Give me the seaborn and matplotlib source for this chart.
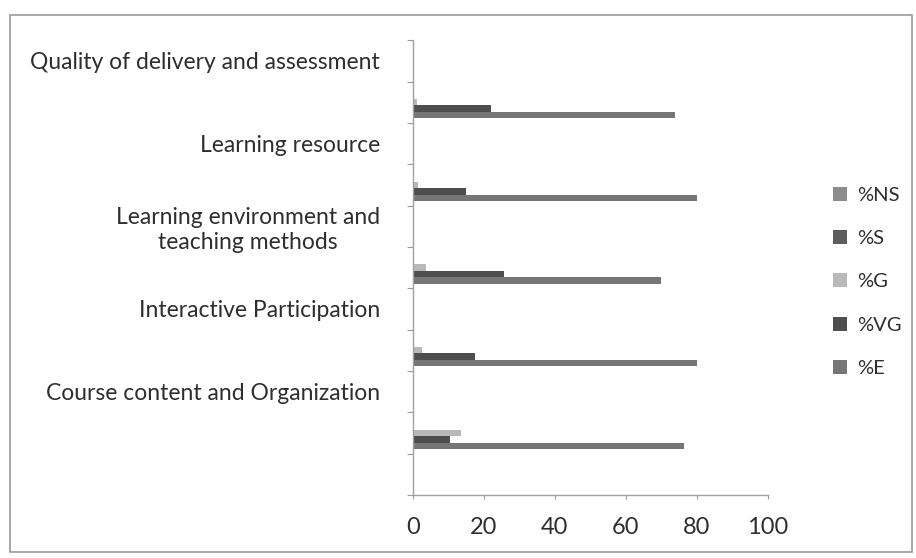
import numpy as np
import pandas as pd
import matplotlib.pyplot as plt
import seaborn as sns
from matplotlib.patches import Rectangle
from matplotlib.ticker import FixedLocator, NullFormatter

# Survey results per course aspect (bottom to top as in the chart)
categories = ["Course content and Organization",
              "Interactive Participation",
              "Learning environment and\nteaching methods",
              "Learning resource",
              "Quality of delivery and assessment"]
pct_E = [76.5, 80.0, 70.0, 80.0, 74.0]
pct_VG = [10.5, 17.5, 25.5, 15.0, 22.0]
pct_G = [13.5, 2.5, 3.5, 1.5, 1.0]
pct_S = [0.0, 0.0, 0.0, 0.0, 0.0]
pct_NS = [0.0, 0.0, 0.0, 0.0, 0.0]

series_names = ["%NS", "%S", "%G", "%VG", "%E"]
series_colors = ["#8c8c8c", "#5c5c5c", "#b9b9b9", "#4e4e4e", "#767676"]

# long-form table
rows = []
for i, cat in enumerate(categories):
    for name, vals in zip(["%E", "%VG", "%G", "%S", "%NS"], [pct_E, pct_VG, pct_G, pct_S, pct_NS]):
        rows.append({"slot": cat, "series": name, "value": vals[i]})
df = pd.DataFrame(rows)

# each category gets a label row above its bar row (like the original sheet)
slot_order = []
for cat in categories[::-1]:
    slot_order.append("label: " + cat)
    slot_order.append(cat)
slot_order.append("blank")

sns.set_style("white")
plt.rcParams['font.family'] = ['Lato', 'DejaVu Sans']
text_color = "#2e2e2e"

fig = plt.figure(figsize=(9.16, 5.58), dpi=100)
ax = fig.add_axes([0.451, 0.113, 0.387, 0.815])

sns.barplot(data=df, y="slot", x="value", hue="series", order=slot_order,
            hue_order=series_names, palette=series_colors, width=0.78,
            orient="h", saturation=1, linewidth=0, ax=ax)

ax.set_xlim(0, 100)
ax.set_ylim(len(slot_order) - 0.5, -0.5)
ax.set_xticks(range(0, 101, 20))
ax.set_xlabel("")
ax.set_ylabel("")

# tick marks between slots, labels on the label rows
ax.yaxis.set_major_locator(FixedLocator(np.arange(-0.5, len(slot_order), 1)))
ax.yaxis.set_major_formatter(NullFormatter())
label_pos = [slot_order.index("label: " + c) for c in categories]
ax.set_yticks(label_pos, categories, minor=True)
ax.tick_params(axis="y", which="minor", length=0, pad=24, labelsize=16.5, labelcolor=text_color)
ax.tick_params(axis="y", which="major", length=4, color="#999999", left=True)
ax.tick_params(axis="x", length=3, color="#999999", pad=13, labelsize=17,
               labelcolor=text_color, bottom=True)
for t in ax.get_yticklabels(minor=True):
    t.set_multialignment("center")

sns.despine(ax=ax, top=True, right=True)
for side in ["left", "bottom"]:
    ax.spines[side].set_color("#a0a0a0")
    ax.spines[side].set_linewidth(1)

leg = ax.legend(loc="center left", bbox_to_anchor=(0.89, 0.495),
                bbox_transform=fig.transFigure, frameon=False, fontsize=14.5,
                handlelength=0.7, handleheight=0.7, handletextpad=0.5,
                labelspacing=1.3)
for t in leg.get_texts():
    t.set_color(text_color)

# outer chart frame
fig.add_artist(Rectangle((10 / 916, 1 - 552 / 558), 902 / 916, 537 / 558,
                         transform=fig.transFigure, fill=False,
                         edgecolor="#9a9a9a", linewidth=1.2))

fig.savefig("out.png", dpi=100)
